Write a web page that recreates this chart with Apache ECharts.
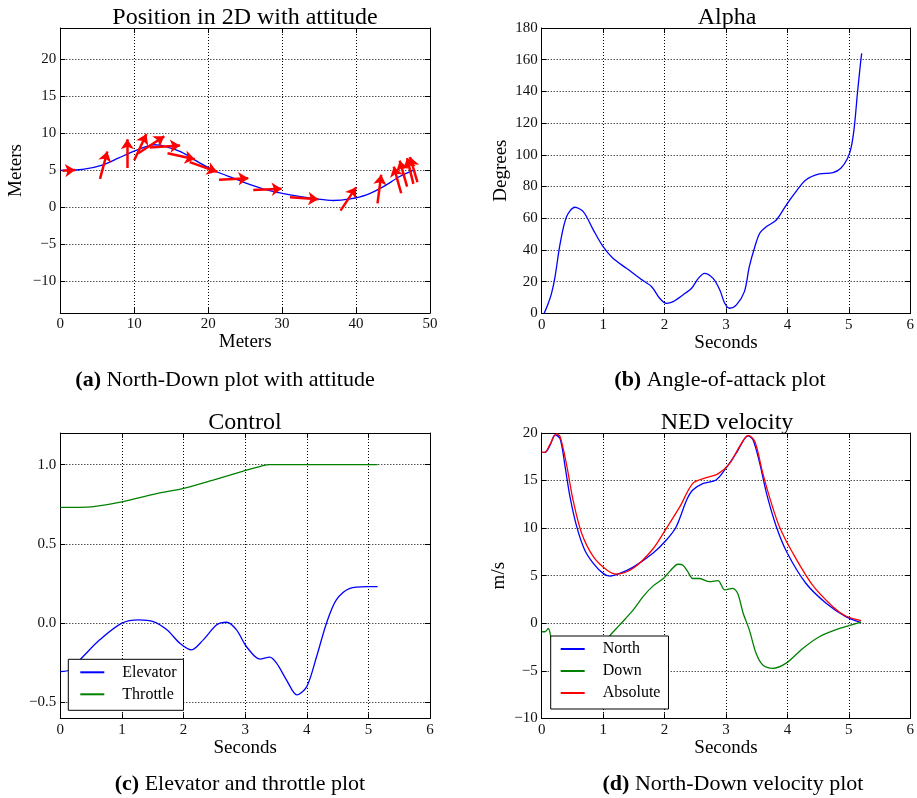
<!DOCTYPE html>
<html><head><meta charset="utf-8">
<script src="https://cdn.jsdelivr.net/npm/echarts@6/dist/echarts.min.js"></script>
<style>html,body{margin:0;padding:0;background:#fff}#c{width:917px;height:798px}</style>
</head><body><div id="c"></div>
<script>
// ---------- data ----------
// (a) trajectory
const pathX = [0, 3, 5.8, 7.85, 9.9, 11.3, 12.6, 13.5, 14.8, 16.2, 17.6, 18.9, 21.1, 23.4, 25.6, 27.9, 31.1, 34.7, 36.9, 39.2, 41.4, 43.7, 45.9, 47.7];
const pathY = [5.0, 5.12, 5.75, 6.65, 7.55, 8.1, 8.46, 8.4, 8.05, 7.55, 6.75, 5.97, 4.84, 3.94, 3.1, 2.35, 1.67, 1.13, 0.92, 1.13, 1.67, 2.8, 4.16, 5.0];
// attitude arrows (tail -> head)
const arrowTailX = [0.3, 5.37, 9.1, 10.0, 10.55, 12.1, 14.5, 17.5, 21.46, 26.1, 31.06, 37.9, 42.9, 46.1, 46.9, 47.75, 48.3];
const arrowTailY = [4.95, 3.85, 5.3, 6.35, 7.3, 8.1, 7.3, 6.1, 3.71, 2.35, 1.36, -0.46, 0.54, 1.9, 2.8, 3.16, 3.4];
const arrowHeadX = [2.0, 6.36, 9.06, 11.65, 14.07, 16.2, 18.2, 21.2, 25.43, 29.94, 34.9, 40.0, 43.4, 45.1, 45.9, 46.9, 47.3];
const arrowHeadY = [5.05, 7.55, 9.2, 9.9, 9.6, 8.36, 6.5, 4.8, 3.94, 2.49, 1.09, 2.7, 4.4, 5.5, 6.3, 6.65, 6.8];
// (b) angle of attack
const alphaT = [0.04, 0.1, 0.16, 0.217, 0.3, 0.406, 0.54, 0.68, 0.84, 1.0, 1.16, 1.38, 1.6, 1.79, 1.92, 2.03, 2.14, 2.3, 2.44, 2.55, 2.65, 2.79, 2.9, 2.98, 3.06, 3.17, 3.3, 3.38, 3.47, 3.55, 3.66, 3.82, 4.0, 4.14, 4.3, 4.52, 4.74, 4.87, 4.98, 5.04, 5.09, 5.14, 5.19, 5.21];
const alphaDeg = [0, 5.5, 12.6, 23, 44, 61, 66.9, 64, 52.6, 42, 34.7, 28.4, 22, 16.8, 9.5, 6.3, 7.4, 11.6, 15.8, 22, 25.2, 22, 14.7, 6.3, 3.2, 5.3, 13.7, 29.4, 42, 50.5, 54.7, 58.9, 69.4, 76.8, 84.1, 87.9, 88.7, 91.5, 97.8, 105, 117.8, 138.8, 157.7, 164];
// (c) control
const elevT = [0, 0.157, 0.37, 0.64, 1.0, 1.27, 1.51, 1.73, 1.94, 2.13, 2.32, 2.54, 2.7, 2.86, 3.02, 3.24, 3.4, 3.51, 3.67, 3.84, 4.0, 4.16, 4.32, 4.48, 4.7, 4.97, 5.15];
const elevator = [-0.305, -0.294, -0.21, -0.105, 0.0, 0.021, 0.01, -0.042, -0.126, -0.168, -0.105, -0.01, 0.006, -0.042, -0.147, -0.227, -0.214, -0.252, -0.357, -0.452, -0.4, -0.21, 0.0, 0.147, 0.22, 0.231, 0.231];
const throttleT = [0, 0.3, 0.54, 1.02, 1.51, 2.0, 2.48, 2.97, 3.25, 3.4, 4.0, 5.15];
const throttle = [0.731, 0.731, 0.735, 0.767, 0.813, 0.851, 0.903, 0.96, 0.99, 1.0, 1.0, 1.0];
// (d) NED velocity
const northT = [0, 0.054, 0.135, 0.217, 0.3, 0.38, 0.46, 0.57, 0.7, 0.84, 1.0, 1.11, 1.27, 1.49, 1.81, 2.03, 2.19, 2.36, 2.46, 2.63, 2.84, 3.0, 3.17, 3.36, 3.44, 3.55, 3.66, 3.82, 4.0, 4.3, 4.63, 4.95, 5.2];
const north = [17.97, 17.97, 18.7, 19.8, 19.4, 16.5, 13.3, 10.15, 7.7, 6.3, 5.24, 4.96, 5.24, 5.9, 7.35, 8.75, 10.15, 12.95, 14.0, 14.7, 15.06, 16.3, 17.9, 19.7, 19.3, 16.8, 13.65, 10.15, 7.35, 4.2, 2.1, 0.69, 0.06];
const downT = [0, 0.054, 0.108, 0.16, 0.25, 0.4, 0.6, 0.8, 0.95, 1.12, 1.27, 1.49, 1.65, 1.81, 1.98, 2.08, 2.22, 2.3, 2.38, 2.46, 2.57, 2.73, 2.87, 2.98, 3.11, 3.19, 3.28, 3.38, 3.49, 3.6, 3.76, 3.98, 4.25, 4.52, 4.85, 5.2];
const down = [-0.9, -0.9, -0.55, -1.77, -3.5, -5, -5.2, -4, -2.6, -1.24, -0.18, 1.4, 2.8, 3.9, 4.7, 5.42, 6.2, 6.1, 5.4, 4.7, 4.7, 4.37, 4.47, 3.5, 3.67, 3.15, 1.05, -0.7, -3.17, -4.4, -4.75, -4.2, -2.65, -1.42, -0.55, 0.12];
const absT = [0, 0.054, 0.135, 0.24, 0.3, 0.41, 0.51, 0.65, 0.84, 1.06, 1.22, 1.49, 1.81, 2.03, 2.25, 2.46, 2.68, 2.87, 3.06, 3.22, 3.36, 3.47, 3.6, 3.74, 3.87, 4.09, 4.41, 4.74, 4.95, 5.2];
const absolute = [17.97, 17.97, 18.8, 19.9, 19.6, 16.5, 12.95, 9.45, 7.0, 5.6, 5.17, 5.77, 7.8, 9.98, 12.25, 14.7, 15.3, 15.7, 16.8, 18.56, 19.75, 19.1, 15.76, 12.6, 10.15, 7.35, 4.0, 1.74, 0.76, 0.27];
// tick labels
const yTicksA = [-10, -5, 0, 5, 10, 15, 20];
const yTicksC = [-0.5, 0, 0.5, 1.0];

// ---------- helpers ----------
const FONT = 'Liberation Serif';
const zip = (a, b) => a.map((v, i) => [v, b[i]]);
const minus = s => String(s).replace('-', '\u2212');

const grids = [
  {left: 60.3, top: 28, width: 369.7, height: 285},
  {left: 541.7, top: 28, width: 369.3, height: 285.3},
  {left: 60.3, top: 433, width: 369.7, height: 285.3},
  {left: 541.7, top: 433, width: 369.3, height: 285.3}
];

const xAxes = [], yAxes = [];
function addAxes(g, xc, yc) {
  ['bottom', 'top'].forEach((pos, k) => {
    xAxes.push({
      type: 'value', gridIndex: g, position: pos, min: xc.min, max: xc.max,
      interval: xc.interval,
      name: k === 0 ? xc.name : '', nameLocation: 'middle', nameGap: xc.nameGap || 22,
      nameTextStyle: {fontFamily: FONT, fontSize: 19, color: '#000'},
      axisLine: {show: true, onZero: false, lineStyle: {color: '#000', width: 1}},
      axisTick: Object.assign({show: true, inside: true, length: 5, lineStyle: {color: '#000'}}, xc.ticks ? {customValues: xc.ticks} : {}),
      axisLabel: Object.assign({show: k === 0, margin: 4, fontFamily: FONT, fontSize: 15, color: '#111', formatter: v => minus(v)}, xc.ticks ? {customValues: xc.ticks} : {}),
      splitLine: {show: k === 0, lineStyle: {color: '#000', type: [1, 2], width: 1}}
    });
  });
  ['left', 'right'].forEach((pos, k) => {
    yAxes.push({
      type: 'value', gridIndex: g, position: pos, min: yc.min, max: yc.max,
      interval: yc.interval,
      name: k === 0 ? yc.name : '', nameLocation: 'middle', nameGap: yc.nameGap || 35, nameRotate: 90,
      nameTextStyle: {fontFamily: FONT, fontSize: 19, color: '#000'},
      axisLine: {show: true, onZero: false, lineStyle: {color: '#000', width: 1}},
      axisTick: Object.assign({show: true, inside: true, length: 5, lineStyle: {color: '#000'}}, yc.ticks ? {customValues: yc.ticks} : {}),
      axisLabel: Object.assign({show: k === 0, margin: 4, fontFamily: FONT, fontSize: 15, color: '#111', formatter: yc.fmt || (v => minus(v))}, yc.ticks ? {customValues: yc.ticks} : {}),
      splitLine: {show: k === 0, lineStyle: {color: '#000', type: [1, 2], width: 1}}
    });
  });
}
addAxes(0, {min: 0, max: 50, interval: 10, name: 'Meters', nameGap: 20},
           {min: -14.3, max: 24.25, ticks: yTicksA, name: 'Meters', nameGap: 35});
addAxes(1, {min: 0, max: 6, interval: 1, name: 'Seconds', nameGap: 20},
           {min: 0, max: 180, interval: 20, name: 'Degrees', nameGap: 31});
addAxes(2, {min: 0, max: 6, interval: 1, name: 'Seconds', nameGap: 20},
           {min: -0.6, max: 1.2, ticks: yTicksC, name: '', fmt: v => minus(v.toFixed(1))});
addAxes(3, {min: 0, max: 6, interval: 1, name: 'Seconds', nameGap: 20},
           {min: -10, max: 20, interval: 5, name: 'm/s', nameGap: 33});

function line(name, g, data, color) {
  return {
    name, type: 'line', xAxisIndex: 2 * g, yAxisIndex: 2 * g, data,
    showSymbol: false, symbol: 'none', smooth: 0.3, clip: true,
    lineStyle: {color, width: 1.3}, itemStyle: {color}, z: 3
  };
}

const arrowData = arrowTailX.map((x, i) => ({coords: [[x, arrowTailY[i]], [arrowHeadX[i], arrowHeadY[i]]]}));

const series = [
  line('path', 0, zip(pathX, pathY), '#0000ff'),
  {
    type: 'lines', coordinateSystem: 'cartesian2d', xAxisIndex: 0, yAxisIndex: 0,
    data: arrowData, symbol: ['none', 'arrow'], symbolSize: 10,
    lineStyle: {color: '#ff0000', width: 2.5, opacity: 1, curveness: 0}, z: 4
  },
  line('alpha', 1, zip(alphaT, alphaDeg), '#0000ff'),
  line('Elevator', 2, zip(elevT, elevator), '#0000ff'),
  line('Throttle', 2, zip(throttleT, throttle), '#008000'),
  line('North', 3, zip(northT, north), '#0000ff'),
  line('Down', 3, zip(downT, down), '#008000'),
  line('Absolute', 3, zip(absT, absolute), '#ff0000')
];

function title(text, cx, top, size, rich) {
  return {text, left: cx, top, textAlign: 'center', padding: 0,
    textStyle: {fontFamily: FONT, fontSize: size, fontWeight: 'normal', color: '#000', rich}};
}
const capRich = {
  b: {fontFamily: FONT, fontSize: 22, fontWeight: 'bold', color: '#000'},
  n: {fontFamily: FONT, fontSize: 22, fontWeight: 'normal', color: '#000'}
};
const titles = [
  title('Position in 2D with attitude', 245, 6, 24),
  title('Alpha', 727, 6, 24),
  title('Control', 245, 411, 24),
  title('NED velocity', 727, 411, 24),
  title('{b|(a)}{n| North-Down plot with attitude}', 225, 369, 22, capRich),
  title('{b|(b)}{n| Angle-of-attack plot}', 720, 369, 22, capRich),
  title('{b|(c)}{n| Elevator and throttle plot}', 240, 773, 22, capRich),
  title('{b|(d)}{n| North-Down velocity plot}', 733, 773, 22, capRich)
];

const legendBase = {
  orient: 'vertical', backgroundColor: '#fff', borderColor: '#000', borderWidth: 1,
  borderRadius: 0, icon: 'rect', itemWidth: 24, itemHeight: 2, itemGap: 6,
  textStyle: {fontFamily: FONT, fontSize: 16, color: '#000', padding: [0, 0, 0, 13]},
  z: 10
};
const legends = [
  Object.assign({}, legendBase, {data: ['Elevator', 'Throttle'], left: 68.3, top: 659.3, padding: [5, 7, 8, 12]}),
  Object.assign({}, legendBase, {data: ['North', 'Down', 'Absolute'], left: 550.7, top: 636, padding: [5, 8, 8, 10]})
];

const chart = echarts.init(document.getElementById('c'), null, {renderer: 'canvas'});
chart.setOption({
  animation: false,
  backgroundColor: '#fff',
  title: titles,
  legend: legends,
  grid: grids,
  xAxis: xAxes,
  yAxis: yAxes,
  series
});
</script></body></html>
